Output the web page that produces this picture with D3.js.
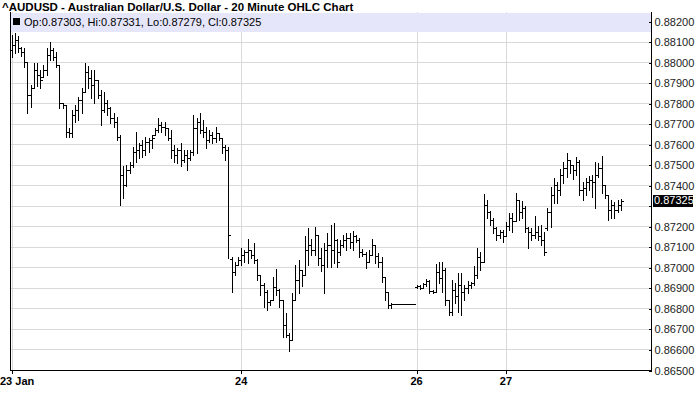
<!DOCTYPE html>
<html><head><meta charset="utf-8">
<script src="https://cdn.jsdelivr.net/npm/d3@7"></script>
<style>body{margin:0;background:#fff}svg{display:block}</style>
</head><body><div id="chart"></div>
<script>
const title = "^AUDUSD - Australian Dollar/U.S. Dollar - 20 Minute OHLC Chart";
const legendText = "Op:0.87303, Hi:0.87331, Lo:0.87279, Cl:0.87325";
const lastPrice = 0.87325;
const dateTickIndex = [0, 72, 127, 155];
const dateTickLabels = ["23 Jan", "24", "26", "27"];
const priceTicks = [0.865,0.866,0.867,0.868,0.869,0.870,0.871,0.872,0.873,0.874,0.875,0.876,0.877,0.878,0.879,0.880,0.881,0.882];

const open = [
0.88059,0.88083,0.88107,0.88068,0.88049,0.88000,0.87840,0.87874,0.87961,0.87937,
0.87927,0.87961,0.88035,0.88059,0.88025,0.87986,0.87800,0.87791,0.87659,0.87654,
0.87742,0.87766,0.87815,0.87854,0.87951,0.87922,0.87889,0.87913,0.87840,0.87766,
0.87800,0.87776,0.87727,0.87708,0.87635,0.87450,0.87401,0.87474,0.87499,0.87562,
0.87572,0.87596,0.87572,0.87610,0.87620,0.87645,0.87669,0.87694,0.87684,0.87679,
0.87630,0.87572,0.87548,0.87572,0.87523,0.87548,0.87533,0.87562,0.87679,0.87708,
0.87669,0.87659,0.87620,0.87645,0.87630,0.87654,0.87630,0.87586,0.87572,0.87040,
0.86977,0.87012,0.87036,0.87060,0.87074,0.87084,0.87060,0.87036,0.86963,0.86914,
0.86880,0.86831,0.86841,0.86904,0.86890,0.86841,0.86719,0.86671,0.86646,0.86841,
0.86938,0.86987,0.86963,0.87084,0.87109,0.87084,0.87158,0.87045,0.87012,0.87084,
0.87109,0.87084,0.87133,0.87074,0.87109,0.87133,0.87143,0.87123,0.87153,0.87133,
0.87074,0.87065,0.87026,0.87060,0.87109,0.87055,0.87026,0.86953,0.86880,0.86817,
0.86822,0.86822,0.86822,0.86822,0.86822,0.86822,0.86822,0.86904,0.86909,0.86899,
0.86919,0.86933,0.86885,0.86880,0.86977,0.86948,0.86987,0.86841,0.86782,0.86890,
0.86860,0.86914,0.86880,0.86899,0.86914,0.86923,0.86963,0.87050,0.87026,0.87304,
0.87269,0.87231,0.87192,0.87158,0.87172,0.87153,0.87202,0.87240,0.87226,0.87328,
0.87269,0.87289,0.87192,0.87172,0.87158,0.87172,0.87153,0.87133,0.87192,0.87269,
0.87353,0.87401,0.87377,0.87450,0.87484,0.87523,0.87499,0.87474,0.87513,0.87377,
0.87387,0.87416,0.87425,0.87416,0.87450,0.87484,0.87401,0.87353,0.87279,0.87304,
0.87279,0.87303];

const high = [
0.88132,0.88141,0.88127,0.88073,0.88068,0.88000,0.87889,0.87995,0.87995,0.87961,
0.87986,0.88068,0.88097,0.88068,0.88049,0.87986,0.87800,0.87791,0.87679,0.87766,
0.87791,0.87830,0.87874,0.87995,0.87981,0.87961,0.87961,0.87913,0.87864,0.87854,
0.87815,0.87781,0.87751,0.87732,0.87645,0.87494,0.87499,0.87513,0.87586,0.87659,
0.87605,0.87620,0.87635,0.87630,0.87645,0.87679,0.87727,0.87708,0.87708,0.87679,
0.87669,0.87596,0.87581,0.87605,0.87572,0.87572,0.87572,0.87742,0.87727,0.87751,
0.87718,0.87684,0.87669,0.87659,0.87684,0.87654,0.87630,0.87596,0.87586,0.87050,
0.87026,0.87050,0.87094,0.87084,0.87138,0.87084,0.87118,0.87040,0.86963,0.86923,
0.86890,0.86841,0.86953,0.86992,0.86894,0.86841,0.86777,0.86680,0.86875,0.87012,
0.87036,0.86987,0.87153,0.87192,0.87138,0.87197,0.87158,0.87094,0.87118,0.87167,
0.87207,0.87216,0.87140,0.87133,0.87158,0.87167,0.87167,0.87177,0.87158,0.87143,
0.87089,0.87074,0.87084,0.87138,0.87109,0.87070,0.87050,0.86953,0.86880,0.86827,
0.86822,0.86822,0.86822,0.86822,0.86822,0.86822,0.86822,0.86914,0.86914,0.86923,
0.86943,0.86938,0.86890,0.87017,0.87026,0.87026,0.86997,0.86841,0.86938,0.86923,
0.86972,0.86972,0.86914,0.86933,0.86928,0.87007,0.87094,0.87074,0.87358,0.87328,
0.87274,0.87240,0.87197,0.87182,0.87182,0.87221,0.87264,0.87264,0.87362,0.87328,
0.87323,0.87299,0.87197,0.87192,0.87250,0.87202,0.87207,0.87172,0.87289,0.87391,
0.87435,0.87416,0.87479,0.87513,0.87557,0.87523,0.87499,0.87538,0.87523,0.87416,
0.87435,0.87445,0.87450,0.87513,0.87508,0.87543,0.87401,0.87353,0.87328,0.87318,
0.87328,0.87331];

const low = [
0.88025,0.88044,0.88049,0.88030,0.87976,0.87751,0.87781,0.87874,0.87884,0.87874,
0.87927,0.87937,0.88010,0.88010,0.87976,0.87776,0.87776,0.87635,0.87635,0.87635,
0.87708,0.87718,0.87751,0.87854,0.87874,0.87825,0.87800,0.87825,0.87694,0.87756,
0.87742,0.87703,0.87684,0.87620,0.87304,0.87338,0.87395,0.87459,0.87490,0.87513,
0.87533,0.87538,0.87548,0.87562,0.87581,0.87645,0.87659,0.87659,0.87645,0.87620,
0.87533,0.87513,0.87508,0.87494,0.87513,0.87474,0.87523,0.87548,0.87557,0.87654,
0.87635,0.87581,0.87610,0.87605,0.87610,0.87620,0.87557,0.87523,0.87045,0.86880,
0.86963,0.87012,0.87012,0.87026,0.87021,0.87045,0.87021,0.86938,0.86866,0.86807,
0.86792,0.86817,0.86841,0.86866,0.86807,0.86661,0.86661,0.86592,0.86646,0.86841,
0.86875,0.86909,0.86963,0.87012,0.87060,0.87060,0.87012,0.86982,0.86875,0.87002,
0.87002,0.87021,0.87002,0.87060,0.87099,0.87084,0.87094,0.87084,0.87123,0.87050,
0.87055,0.86997,0.87026,0.87060,0.87021,0.87002,0.86928,0.86841,0.86802,0.86802,
0.86822,0.86822,0.86822,0.86822,0.86822,0.86822,0.86822,0.86899,0.86894,0.86899,
0.86909,0.86875,0.86875,0.86880,0.86923,0.86880,0.86817,0.86768,0.86768,0.86827,
0.86782,0.86768,0.86841,0.86875,0.86899,0.86914,0.86948,0.86987,0.87026,0.87240,
0.87207,0.87167,0.87133,0.87143,0.87123,0.87153,0.87182,0.87172,0.87226,0.87231,
0.87240,0.87172,0.87094,0.87133,0.87143,0.87133,0.87109,0.87060,0.87182,0.87197,
0.87314,0.87314,0.87353,0.87410,0.87440,0.87459,0.87430,0.87450,0.87353,0.87328,
0.87353,0.87377,0.87343,0.87289,0.87440,0.87362,0.87338,0.87231,0.87240,0.87240,
0.87269,0.87279];

const close = [
0.88083,0.88107,0.88068,0.88049,0.88000,0.87840,0.87874,0.87961,0.87937,0.87913,
0.87961,0.88035,0.88059,0.88025,0.87986,0.87800,0.87791,0.87659,0.87654,0.87742,
0.87766,0.87815,0.87854,0.87951,0.87922,0.87889,0.87913,0.87840,0.87766,0.87800,
0.87776,0.87727,0.87708,0.87635,0.87450,0.87401,0.87474,0.87499,0.87562,0.87572,
0.87596,0.87572,0.87610,0.87620,0.87630,0.87669,0.87694,0.87684,0.87679,0.87630,
0.87572,0.87548,0.87572,0.87523,0.87548,0.87533,0.87562,0.87679,0.87708,0.87669,
0.87659,0.87620,0.87645,0.87630,0.87654,0.87630,0.87586,0.87572,0.87158,0.86977,
0.87012,0.87036,0.87060,0.87074,0.87084,0.87060,0.87036,0.86963,0.86914,0.86880,
0.86831,0.86841,0.86904,0.86890,0.86841,0.86719,0.86671,0.86646,0.86841,0.86938,
0.86987,0.86963,0.87084,0.87109,0.87084,0.87158,0.87045,0.87012,0.87084,0.87109,
0.87084,0.87133,0.87026,0.87109,0.87133,0.87143,0.87123,0.87153,0.87133,0.87074,
0.87065,0.87026,0.87060,0.87109,0.87055,0.87026,0.86953,0.86880,0.86817,0.86822,
0.86822,0.86822,0.86822,0.86822,0.86822,0.86822,0.86822,0.86909,0.86899,0.86919,
0.86933,0.86885,0.86880,0.86977,0.86948,0.86987,0.86841,0.86782,0.86890,0.86860,
0.86914,0.86880,0.86899,0.86914,0.86923,0.86963,0.87050,0.87026,0.87304,0.87269,
0.87231,0.87192,0.87158,0.87172,0.87153,0.87202,0.87240,0.87226,0.87328,0.87269,
0.87289,0.87192,0.87172,0.87158,0.87172,0.87153,0.87133,0.87074,0.87269,0.87353,
0.87401,0.87377,0.87450,0.87484,0.87523,0.87499,0.87474,0.87513,0.87377,0.87387,
0.87416,0.87425,0.87416,0.87450,0.87484,0.87401,0.87353,0.87279,0.87304,0.87279,
0.87304,0.87325];

const W = 700, H = 411;
const L = 10, R = 651, T = 12, B = 370;
const n = Math.min(open.length, high.length, low.length, close.length);
const bars = d3.range(n).map(i => ({i, o: open[i], h: high[i], l: low[i], c: close[i]}));

const x = d3.scaleLinear().domain([0, 191]).range([11.5, 620.8]);
const y = d3.scaleLinear().domain([0.865, 0.882]).range([370, 21]);
const cr = v => Math.round(v) + 0.5;

const svg = d3.select("#chart").append("svg").attr("width", W).attr("height", H)
  .style("font-family", "'Liberation Sans', Arial, sans-serif");

// gridlines
const grid = svg.append("g").attr("shape-rendering", "crispEdges");
grid.selectAll("line.h").data(priceTicks).join("line").attr("class", "h")
  .attr("x1", L).attr("x2", R).attr("y1", d => cr(y(d))).attr("y2", d => cr(y(d)))
  .attr("stroke", "#d9d9d9").attr("stroke-width", 1);
grid.selectAll("line.v").data(dateTickIndex).join("line").attr("class", "v")
  .attr("x1", d => cr(x(d))).attr("x2", d => cr(x(d))).attr("y1", T).attr("y2", B)
  .attr("stroke", "#d9d9d9").attr("stroke-width", 1);

// legend band
svg.append("rect").attr("x", L + 1).attr("y", 13).attr("width", R - L - 1).attr("height", 19)
  .attr("fill", "#e6e6fa");
svg.append("rect").attr("x", 13).attr("y", 18).attr("width", 7).attr("height", 7).attr("fill", "#000");
svg.append("text").attr("x", 24).attr("y", 26).attr("font-size", 11).attr("fill", "#000").text(legendText);

// title
svg.append("text").attr("x", 2).attr("y", 11).attr("font-size", 11.5).attr("font-weight", "bold")
  .attr("fill", "#000").text(title);

// frame
const frame = svg.append("g").attr("stroke", "#000").attr("stroke-width", 1).attr("shape-rendering", "crispEdges");
frame.append("line").attr("x1", L + 0.5).attr("x2", L + 0.5).attr("y1", T).attr("y2", B + 1);
frame.append("line").attr("x1", L).attr("x2", R + 1).attr("y1", B + 0.5).attr("y2", B + 0.5);
frame.append("line").attr("x1", R + 0.5).attr("x2", R + 0.5).attr("y1", T).attr("y2", B + 1);

// y axis (right)
const yAxis = d3.axisRight(y).tickValues(priceTicks)
  .tickFormat(d => Math.abs(d - lastPrice) < 0.0006 ? "" : d3.format(".5f")(d))
  .tickSizeInner(-3).tickSizeOuter(0).tickPadding(3);
const ya = svg.append("g").attr("transform", `translate(${R + 0.5},0.5)`).call(yAxis);
ya.select(".domain").remove();
ya.selectAll("line").attr("stroke", "#000").attr("shape-rendering", "crispEdges");
ya.selectAll("text").attr("font-size", 11).attr("fill", "#222")
  .attr("font-family", "'Liberation Sans', Arial, sans-serif");

// current price marker
const lp = svg.append("g");
lp.append("rect").attr("x", R + 2).attr("y", Math.round(y(lastPrice)) - 6).attr("width", 40).attr("height", 12).attr("fill", "#000");
lp.append("text").attr("x", R + 3).attr("y", y(lastPrice)).attr("dy", "0.35em").attr("font-size", 11)
  .attr("fill", "#fff").text(d3.format(".5f")(lastPrice));

// x axis labels
const xa = svg.append("g");
xa.selectAll("line").data(dateTickIndex).join("line")
  .attr("x1", d => cr(x(d))).attr("x2", d => cr(x(d))).attr("y1", B).attr("y2", B + 4)
  .attr("stroke", "#000").attr("shape-rendering", "crispEdges");
xa.selectAll("text").data(dateTickIndex).join("text")
  .attr("x", (d, k) => k === 0 ? 0 : x(d)).attr("y", 385)
  .attr("text-anchor", (d, k) => k === 0 ? "start" : "middle")
  .attr("font-size", 11).attr("font-weight", "bold")
  .attr("font-family", "'Liberation Sans Narrow', 'Arial Narrow', 'Liberation Sans', sans-serif")
  .text((d, k) => dateTickLabels[k]);

// OHLC bars
const g = svg.append("g").attr("stroke", "#000").attr("stroke-width", 1).attr("shape-rendering", "crispEdges");
const bg = g.selectAll("g").data(bars).join("g");
bg.filter(d => d.h !== d.l).append("line")
  .attr("x1", d => cr(x(d.i))).attr("x2", d => cr(x(d.i)))
  .attr("y1", d => Math.round(y(d.h))).attr("y2", d => Math.round(y(d.l)) + 1);
bg.append("line")
  .attr("x1", d => cr(x(d.i)) - 2.5).attr("x2", d => cr(x(d.i)))
  .attr("y1", d => cr(y(d.o))).attr("y2", d => cr(y(d.o)));
bg.append("line")
  .attr("x1", d => cr(x(d.i))).attr("x2", d => cr(x(d.i)) + 2.5)
  .attr("y1", d => cr(y(d.c))).attr("y2", d => cr(y(d.c)));
</script></body></html>
